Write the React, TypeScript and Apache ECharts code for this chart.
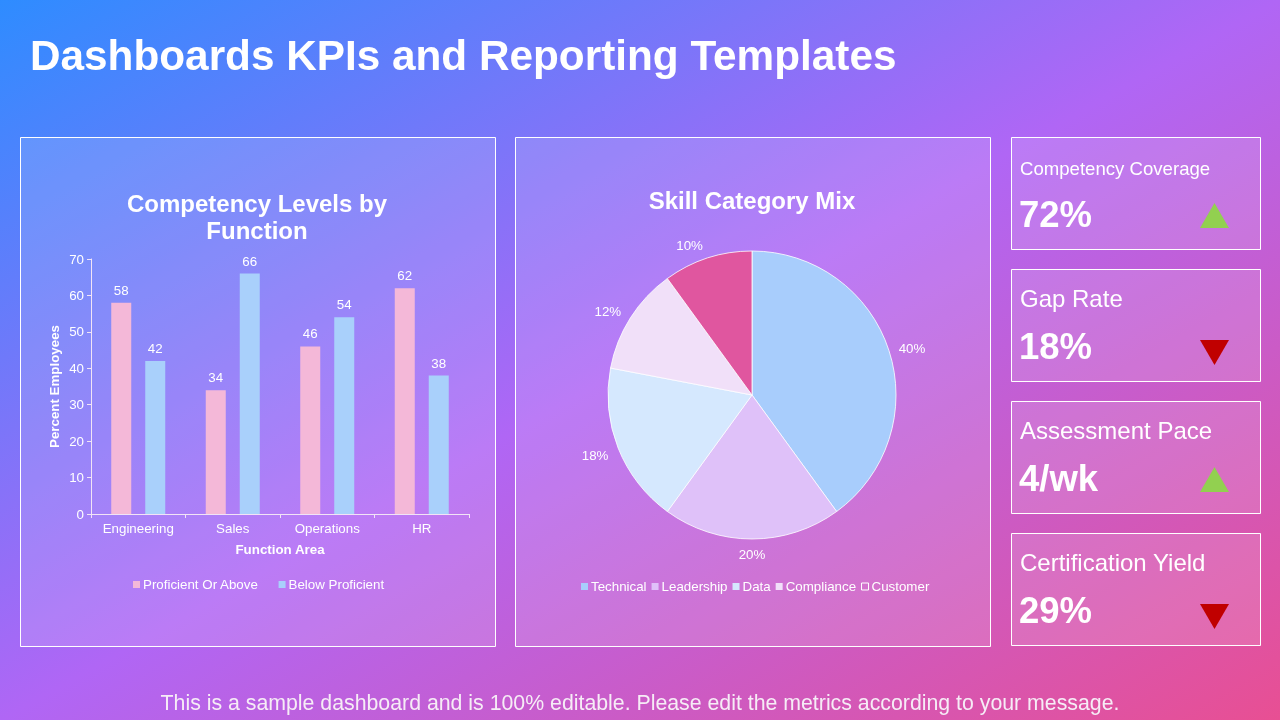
import React, { useEffect, useRef } from "react";
import * as echarts from "echarts";

const functionAreas = ["Engineering", "Sales", "Operations", "HR"];
const proficientOrAbove = [58, 34, 46, 62];
const belowProficient = [42, 66, 54, 38];

const skillCategories = ["Technical", "Leadership", "Data", "Compliance", "Customer"];
const skillShares = [40, 20, 18, 12, 10];
const skillColors = ["#a8cdfc", "#dfc1f9", "#d5e8fe", "#f1e0f9", "#e0569f"];

const kpiLabels = ["Competency Coverage", "Gap Rate", "Assessment Pace", "Certification Yield"];
const kpiValues = ["72%", "18%", "4/wk", "29%"];
const kpiTrends = ["up", "down", "up", "down"];

const FONT = "Liberation Sans, Arial, sans-serif";
const SMALL = 13.33;

function txt(x: number, y: number, text: string, size: number, opts: any = {}) {
  return {
    type: "text",
    z: 3,
    x,
    y,
    style: {
      text,
      fill: opts.fill || "#ffffff",
      fontSize: size,
      fontWeight: opts.bold ? "bold" : "normal",
      fontFamily: FONT,
      lineHeight: opts.lineHeight,
      align: opts.align || "left",
      verticalAlign: "middle",
    },
  };
}

// small per-label nudges (pixels) so the pie labels sit like the reference
const pieLabelNudge: Record<number, { dx: number; dy: number }> = {
  0: { dx: 0, dy: 0 },
  1: { dx: -5, dy: 10 },
  2: { dx: 0, dy: 6 },
  3: { dx: 0, dy: -4 },
  4: { dx: 2, dy: -8 },
};

export default function App() {
  const ref = useRef<HTMLDivElement>(null);

  useEffect(() => {
    document.body.style.margin = "0";
    const chart = echarts.init(ref.current!, null, { renderer: "svg" });

    const kpiTops = [137, 269, 401, 533];
    const kpiLabelSizes = [18.6, 24, 24, 24];
    const kpiGraphics: any[] = [];
    kpiTops.forEach((t, i) => {
      kpiGraphics.push({
        type: "rect",
        z: 1,
        shape: { x: 1011.5, y: t + 0.5, width: 249, height: 112 },
        style: { fill: "rgba(255,255,255,0.14)", stroke: "#ffffff", lineWidth: 1 },
      });
      kpiGraphics.push(txt(1020, i === 0 ? t + 31 : t + 29.5, kpiLabels[i], kpiLabelSizes[i]));
      kpiGraphics.push(txt(1019, t + 77, kpiValues[i], 36.5, { bold: true }));
      const up = kpiTrends[i] === "up";
      const pts = up
        ? [[1200, t + 91], [1229, t + 91], [1214.5, t + 66]]
        : [[1200, t + 71], [1229, t + 71], [1214.5, t + 96]];
      kpiGraphics.push({
        type: "polygon",
        z: 3,
        shape: { points: pts },
        style: { fill: up ? "#92d050" : "#c00000" },
      });
    });

    const option: any = {
      animation: false,
      textStyle: { fontFamily: FONT },
      graphic: [
        {
          type: "rect",
          z: -10,
          shape: { x: 0, y: 0, width: 1280, height: 720 },
          style: {
            fill: new echarts.graphic.LinearGradient(
              332, -187, 948, 907,
              [
                { offset: 0, color: "#2e8cff" },
                { offset: 0.5, color: "#b066f5" },
                { offset: 1, color: "#e84f93" },
              ],
              true
            ),
          },
        },
        {
          type: "rect",
          z: 1,
          shape: { x: 20.5, y: 137.5, width: 475, height: 509 },
          style: { fill: "rgba(255,255,255,0.14)", stroke: "#ffffff", lineWidth: 1 },
        },
        {
          type: "rect",
          z: 1,
          shape: { x: 515.5, y: 137.5, width: 475, height: 509 },
          style: { fill: "rgba(255,255,255,0.14)", stroke: "#ffffff", lineWidth: 1 },
        },
        txt(30, 55, "Dashboards KPIs and Reporting Templates", 42.3, { bold: true }),
        txt(640, 703, "This is a sample dashboard and is 100% editable. Please edit the metrics according to your message.", 21.3, { align: "center", fill: "#f6ecf6" }),
        txt(257, 216.5, "Competency Levels by\nFunction", 24, { bold: true, align: "center", lineHeight: 27 }),
        txt(752, 200.5, "Skill Category Mix", 24, { bold: true, align: "center" }),
        ...kpiGraphics,
      ],
      legend: [
        {
          left: 128,
          top: 573,
          itemWidth: 7,
          itemHeight: 7,
          itemGap: 20,
          icon: "rect",
          itemStyle: { borderWidth: 0 },
          textStyle: { color: "#ffffff", fontSize: SMALL, fontFamily: FONT, padding: [0, 0, 0, -2] },
          data: ["Proficient Or Above", "Below Proficient"],
        },
        {
          left: 576,
          top: 575,
          itemWidth: 7,
          itemHeight: 7,
          itemGap: 5,
          icon: "rect",
          itemStyle: { borderWidth: 0 },
          textStyle: { color: "#ffffff", fontSize: SMALL, fontFamily: FONT, padding: [0, 0, 0, -2] },
          data: skillCategories.map((n, i) =>
            i === 4
              ? { name: n, itemStyle: { color: "rgba(0,0,0,0)", borderColor: "#ffffff", borderWidth: 1 } }
              : { name: n }
          ),
        },
      ],
      grid: { left: 91, top: 259, width: 378, height: 255, containLabel: false },
      xAxis: {
        type: "category",
        data: functionAreas,
        name: "Function Area",
        nameLocation: "middle",
        nameGap: 29,
        nameTextStyle: { color: "#ffffff", fontSize: SMALL, fontWeight: "bold", fontFamily: FONT },
        axisLine: { lineStyle: { color: "#f0e0f5", width: 1 } },
        axisTick: { show: true, length: 4, lineStyle: { color: "#f0e0f5" } },
        axisLabel: { color: "#ffffff", fontSize: SMALL, margin: 8, fontFamily: FONT },
      },
      yAxis: {
        type: "value",
        min: 0,
        max: 70,
        interval: 10,
        name: "Percent Employees",
        nameLocation: "middle",
        nameGap: 30,
        nameRotate: 90,
        nameTextStyle: { color: "#ffffff", fontSize: SMALL, fontWeight: "bold", fontFamily: FONT },
        axisLine: { show: true, lineStyle: { color: "#f0e0f5", width: 1 } },
        axisTick: { show: true, length: 4, lineStyle: { color: "#f0e0f5" } },
        axisLabel: { color: "#ffffff", fontSize: SMALL, margin: 7, fontFamily: FONT },
        splitLine: { show: false },
      },
      series: [
        {
          name: "Proficient Or Above",
          type: "bar",
          data: proficientOrAbove,
          barWidth: 20,
          barGap: "70%",
          itemStyle: { color: "#f4b8d8" },
          label: { show: true, position: "top", color: "#ffffff", fontSize: SMALL, distance: 6, fontFamily: FONT },
          z: 5,
        },
        {
          name: "Below Proficient",
          type: "bar",
          data: belowProficient,
          barWidth: 20,
          barGap: "70%",
          itemStyle: { color: "#a9d0fb" },
          label: { show: true, position: "top", color: "#ffffff", fontSize: SMALL, distance: 6, fontFamily: FONT },
          z: 5,
        },
        {
          name: "Skill Category Mix",
          type: "pie",
          center: [752, 395],
          radius: 144,
          startAngle: 90,
          clockwise: true,
          avoidLabelOverlap: false,
          z: 5,
          data: skillCategories.map((n, i) => ({
            name: n,
            value: skillShares[i],
            itemStyle: { color: skillColors[i] },
          })),
          itemStyle: { borderColor: "rgba(255,255,255,0.8)", borderWidth: 1 },
          label: {
            show: true,
            position: "outside",
            formatter: "{c}%",
            color: "#ffffff",
            fontSize: SMALL,
            fontFamily: FONT,
          },
          labelLine: { show: false, length: 5, length2: 0 },
          labelLayout: (params: any) => {
            const n = pieLabelNudge[params.dataIndex] || { dx: 0, dy: 0 };
            if (params.dataIndex === 1) {
              return { dx: -params.labelRect.width / 2 + n.dx, dy: n.dy };
            }
            return { dx: n.dx, dy: n.dy };
          },
          emphasis: { disabled: true },
        },
      ],
    };

    chart.setOption(option);
    return () => chart.dispose();
  }, []);

  return (
    <div
      ref={ref}
      style={{ position: "fixed", left: 0, top: 0, width: 1280, height: 720 }}
    />
  );
}
